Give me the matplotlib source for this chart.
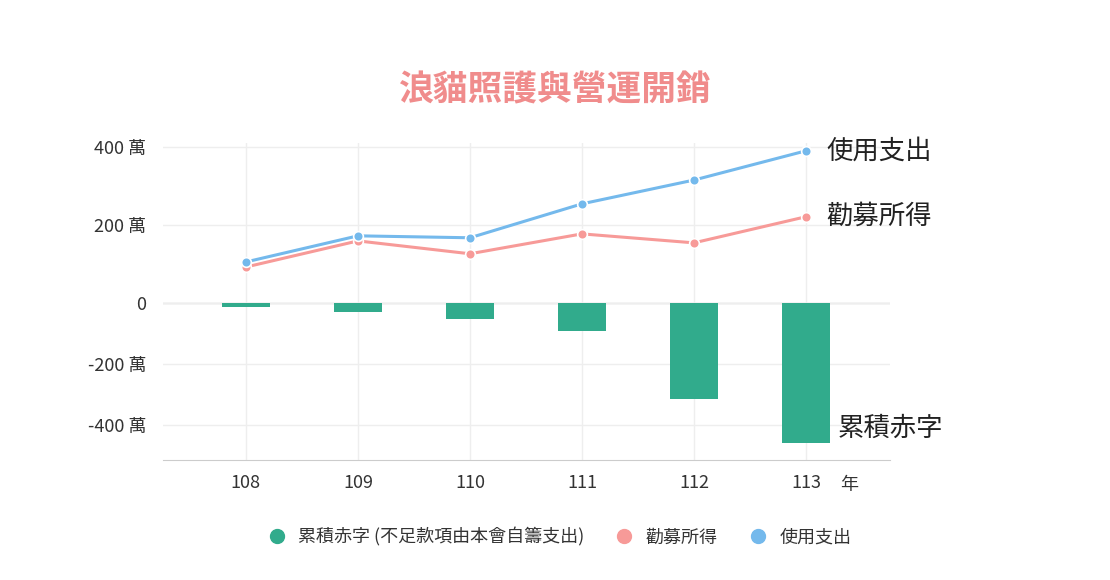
import matplotlib
matplotlib.use("Agg")
import matplotlib.pyplot as plt
from matplotlib import font_manager as fm
import numpy as np
from matplotlib.lines import Line2D

cjk = None
for f in fm.fontManager.ttflist:
    if 'CJK' in f.name and ('TC' in f.name or cjk is None):
        cjk = f.name
if cjk is None:
    import glob
    for p in glob.glob('/usr/share/fonts/**/*CJK*', recursive=True):
        fm.fontManager.addfont(p)
        cjk = fm.FontProperties(fname=p).get_name()
        break
plt.rcParams['font.family'] = [cjk, 'DejaVu Sans'] if cjk else ['DejaVu Sans']

years = ["108", "109", "110", "111", "112", "113"]
deficit = [-13, -30, -52, -92, -315, -459]
donations = [92, 159, 126, 177, 154, 221]
expenses = [105, 172, 167, 254, 315, 390]
yticks = [400, 200, 0, -200, -400]
ytick_labels = ["400 萬", "200 萬", "0", "-200 萬", "-400 萬"]

GREEN, PINK, BLUE = "#31ab8c", "#f79a98", "#74b9ec"

def fwd(v):
    v = np.asarray(v, float)
    return np.where(v >= 0, v * 0.39, v * 0.305)
def inv(v):
    v = np.asarray(v, float)
    return np.where(v >= 0, v / 0.39, v / 0.305)

fig = plt.figure(figsize=(11.1, 5.8), dpi=100)
ax = fig.add_axes([163/1110, 1-460/580, (890-163)/1110, (460-143)/580])
ax.set_yscale('function', functions=(fwd, inv))
x = np.arange(len(years))
ax.bar(x, deficit, width=0.43, color=GREEN, zorder=2)
ax.plot(x, donations, color=PINK, lw=2.2, marker='o', ms=7, mec='white', mew=1.2, zorder=3)
ax.plot(x, expenses, color=BLUE, lw=2.2, marker='o', ms=7, mec='white', mew=1.2, zorder=4)
ax.set_xlim(-0.74, 5.75)
ax.set_ylim(-515, 410)
ax.set_yticks(yticks)
ax.set_yticklabels(ytick_labels, fontsize=13, color="#333333")
ax.set_xticks(x)
ax.set_xticklabels(years, fontsize=13, color="#333333")
ax.tick_params(length=0, pad=10)
ax.tick_params(axis='y', pad=12)
ax.grid(True, color="#eeeeee", lw=1, zorder=0)
ax.axhline(0, color="#cccccc", lw=1, zorder=1)
for s in ['top', 'right', 'left']:
    ax.spines[s].set_visible(False)
ax.spines['bottom'].set_color("#cccccc")

ax.text(5.18, expenses[-1], "使用支出", fontsize=19, va='center', color="#222222")
ax.text(5.18, donations[-1], "勸募所得", fontsize=19, va='center', color="#222222")
ax.text(5.28, -410, "累積赤字", fontsize=19, va='center', color="#222222")
fig.text(849/1110, 1-485/580, "年", fontsize=13, ha='center', va='center', color="#333333")

fig.text(0.5, 1-90/580, "浪貓照護與營運開銷", fontsize=25, fontweight='bold',
         color="#f08c8c", ha='center', va='center')

handles = [Line2D([], [], ls='', marker='o', ms=10, color=c) for c in (GREEN, PINK, BLUE)]
fig.legend(handles, ["累積赤字 (不足款項由本會自籌支出)", "勸募所得", "使用支出"],
           loc='center', bbox_to_anchor=(0.5, 1-537/580), ncol=3, frameon=False,
           fontsize=13, handletextpad=0.2, columnspacing=1.2, labelcolor="#333333")
fig.savefig("out.png", dpi=100)
